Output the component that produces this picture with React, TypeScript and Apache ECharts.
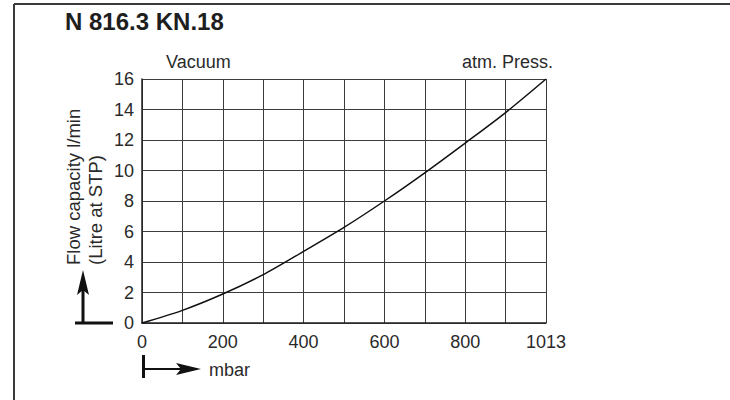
import React, { useEffect, useRef } from "react";
import * as echarts from "echarts";

// x positions on the (evenly divided) pressure axis; right edge is labelled 1013 mbar
const pressure = [0, 100, 200, 300, 400, 500, 600, 700, 800, 900, 1000];
const flow = [0, 0.83, 1.9, 3.17, 4.7, 6.27, 8.0, 9.85, 11.8, 13.8, 16];
const xTickValues = [0, 200, 400, 600, 800, 1000];
const xTickLabels = ["0", "200", "400", "600", "800", "1013"];

const FONT = "'Liberation Sans', Arial, Helvetica, sans-serif";
const TXT = "#2a2a2a";
const GRID = "#3c3c3c";

export default function App() {
  const ref = useRef<HTMLDivElement>(null);
  useEffect(() => {
    if (!ref.current) return;
    const chart = echarts.init(ref.current, undefined, { renderer: "svg" });
    const left = 142, top = 79, w = 404, h = 244;
    chart.setOption({
      animation: false,
      backgroundColor: "#ffffff",
      grid: { left, top, width: w, height: h, containLabel: false },
      xAxis: {
        type: "value",
        min: 0,
        max: 1000,
        interval: 100,
        axisLine: { show: true, lineStyle: { color: "#222", width: 1.5 } },
        axisTick: { show: false },
        splitLine: { show: true, lineStyle: { color: GRID, width: 1 } },
        axisLabel: {
          margin: 10,
          fontSize: 18,
          fontFamily: FONT,
          color: TXT,
          formatter: (v: number) => {
            const i = xTickValues.indexOf(Math.round(v));
            return i >= 0 ? xTickLabels[i] : "";
          },
        },
      },
      yAxis: {
        type: "value",
        min: 0,
        max: 16,
        interval: 2,
        axisLine: { show: true, lineStyle: { color: "#222", width: 1.5 } },
        axisTick: { show: false },
        splitLine: { show: true, lineStyle: { color: GRID, width: 1 } },
        axisLabel: { margin: 8, fontSize: 18, fontFamily: FONT, color: TXT },
      },
      series: [
        {
          type: "line",
          data: pressure.map((p, i) => [p, flow[i]]),
          smooth: 0.3,
          symbol: "none",
          lineStyle: { color: "#111", width: 1.5 },
        },
      ],
      graphic: [
        { type: "line", shape: { x1: 14, y1: 4, x2: 730, y2: 4 }, style: { stroke: "#3a3a3a", lineWidth: 2 } },
        { type: "line", shape: { x1: 14, y1: 4, x2: 14, y2: 400 }, style: { stroke: "#3a3a3a", lineWidth: 2 } },
        {
          type: "text", x: 65, y: 21,
          style: { text: "N 816.3 KN.18", font: `bold 24px ${FONT}`, fill: "#1e1e1e", textAlign: "left", textVerticalAlign: "middle" },
        },
        {
          type: "text", x: 166, y: 62,
          style: { text: "Vacuum", font: `18px ${FONT}`, fill: TXT, textAlign: "left", textVerticalAlign: "middle" },
        },
        {
          type: "text", x: 553, y: 62,
          style: { text: "atm. Press.", font: `18px ${FONT}`, fill: TXT, textAlign: "right", textVerticalAlign: "middle" },
        },
        {
          type: "text", x: 73, y: 265, rotation: Math.PI / 2,
          style: { text: "Flow capacity l/min", font: `18.5px ${FONT}`, fill: TXT, textAlign: "left", textVerticalAlign: "middle" },
        },
        {
          type: "text", x: 95, y: 265, rotation: Math.PI / 2,
          style: { text: "(Litre at STP)", font: `18.5px ${FONT}`, fill: TXT, textAlign: "left", textVerticalAlign: "middle" },
        },
        { type: "line", shape: { x1: 75, y1: 323, x2: 113, y2: 323 }, style: { stroke: "#111", lineWidth: 3 } },
        { type: "line", shape: { x1: 83, y1: 324, x2: 83, y2: 288 }, style: { stroke: "#111", lineWidth: 3 } },
        { type: "polygon", shape: { points: [[83, 270], [77, 295], [83, 290], [89, 295]] }, style: { fill: "#111" } },
        { type: "line", shape: { x1: 143.5, y1: 355, x2: 143.5, y2: 378 }, style: { stroke: "#111", lineWidth: 3 } },
        { type: "line", shape: { x1: 143, y1: 369, x2: 185, y2: 369 }, style: { stroke: "#111", lineWidth: 2 } },
        { type: "polygon", shape: { points: [[201, 369], [176, 363], [181, 369], [176, 375]] }, style: { fill: "#111" } },
        {
          type: "text", x: 209, y: 370,
          style: { text: "mbar", font: `18px ${FONT}`, fill: TXT, textAlign: "left", textVerticalAlign: "middle" },
        },
      ],
    });
    return () => chart.dispose();
  }, []);
  return <div ref={ref} style={{ position: "fixed", left: 0, top: 0, width: 730, height: 400 }} />;
}
